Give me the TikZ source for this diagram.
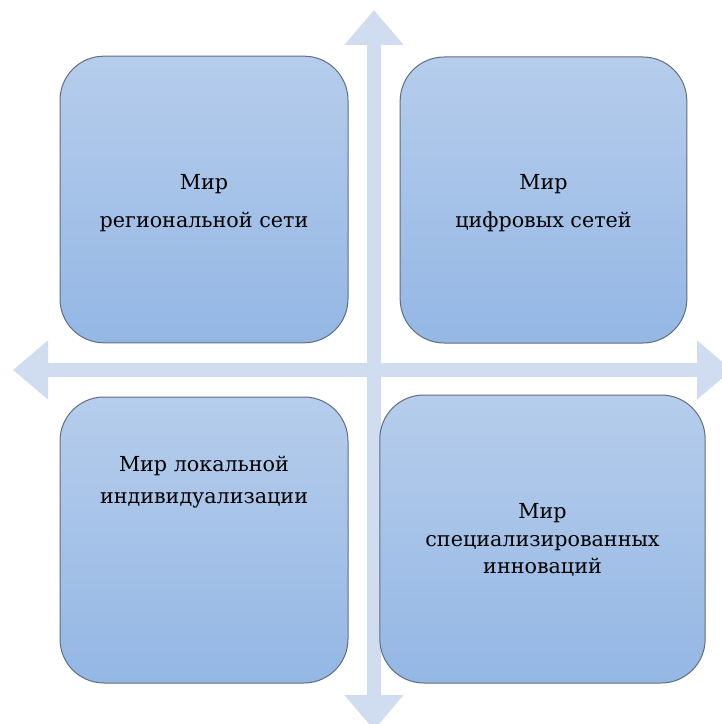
\documentclass[tikz,border=0pt]{standalone}
\usepackage{fontspec}
\newfontfamily\worldfont{DejaVu Serif}
\usetikzlibrary{arrows.meta}
\definecolor{axiscolor}{RGB}{208,220,239}
\definecolor{boxtop}{RGB}{182,205,236}
\definecolor{boxbottom}{RGB}{148,183,228}
\definecolor{boxborder}{RGB}{96,110,128}

\begin{document}
\begin{tikzpicture}[x=0.75pt, y=-0.75pt,
    axis/.style={draw=axiscolor, line width=10.5pt,
                 {Triangle[width=42.75pt, length=26.25pt]}-{Triangle[width=42.75pt, length=26.25pt]}},
    worldbox/.style={rectangle, rounded corners=33pt, draw=boxborder, line width=0.75pt,
                     top color=boxtop, bottom color=boxbottom},
    worldtext/.style={align=center, font=\worldfont\fontsize{15.5pt}{20.5pt}\selectfont}]
  \useasboundingbox (0,0) rectangle (721,724);

  % axes
  \coordinate (ytop) at (374,10);
  \coordinate (ybottom) at (374,730);
  \coordinate (xleft) at (13,370);
  \coordinate (xright) at (732,370);
  \draw[axis] (ytop) -- (ybottom);
  \draw[axis] (xleft) -- (xright);

  % four worlds
  \node[worldbox, minimum width=216pt, minimum height=215pt] (regional) at (204,199.5) {};
  \node[worldbox, minimum width=215pt, minimum height=214.5pt] (digital) at (543.5,200) {};
  \node[worldbox, minimum width=216pt, minimum height=214.5pt] (local) at (204,540) {};
  \node[worldbox, minimum width=244pt, minimum height=216pt] (special) at (542.5,539) {};

  \node[worldtext] (regionaltext) at (204,203) {Мир\\[8.5pt]региональной сети};
  \node[worldtext] (digitaltext) at (543.5,203) {Мир\\[8.5pt]цифровых сетей};
  \node[worldtext] (localtext) at (204,482) {Мир локальной\\[3.5pt]индивидуализации};
  \node[worldtext] (specialtext) at (542.5,540) {Мир\\специализированных\\инноваций};
\end{tikzpicture}
\end{document}
